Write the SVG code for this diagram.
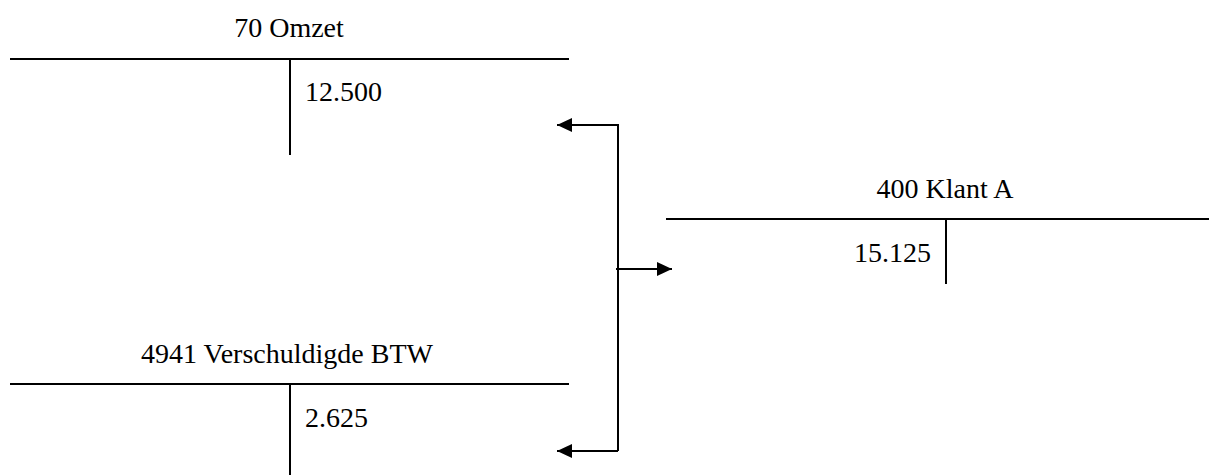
<svg xmlns="http://www.w3.org/2000/svg" width="1216" height="475" viewBox="0 0 1216 475">
<style>
text{font-family:"Liberation Serif","Times New Roman",serif;font-size:28px;fill:#000}
.t{stroke:#000;stroke-width:2;fill:none}
.c{stroke:#000;stroke-width:2;fill:none}
</style>
<defs>
<marker id="ah" viewBox="0 0 15 14" refX="15" refY="7" markerWidth="15" markerHeight="14" markerUnits="userSpaceOnUse" orient="auto">
<path d="M0,0 L15,7 L0,14 Z" fill="#000"/>
</marker>
</defs>
<rect width="1216" height="475" fill="#fff"/>
<g id="omzet">
<text x="289" y="37" text-anchor="middle">70 Omzet</text>
<line class="t" x1="10" y1="59" x2="569" y2="59"/>
<line class="t" x1="290" y1="59" x2="290" y2="155"/>
<text x="305" y="101">12.500</text>
</g>
<g id="klant">
<text x="945" y="198" text-anchor="middle">400 Klant A</text>
<line class="t" x1="666" y1="219" x2="1209" y2="219"/>
<line class="t" x1="946" y1="219" x2="946" y2="284"/>
<text x="931" y="262" text-anchor="end">15.125</text>
</g>
<g id="btw">
<text x="287" y="363" text-anchor="middle">4941 Verschuldigde BTW</text>
<line class="t" x1="10" y1="384" x2="569" y2="384"/>
<line class="t" x1="290" y1="384" x2="290" y2="475"/>
<text x="305" y="427">2.625</text>
</g>
<g id="connectors">
<polyline class="c" points="618,451 618,125 557,125" marker-end="url(#ah)"/>
<line class="c" x1="618" y1="451" x2="557" y2="451" marker-end="url(#ah)"/>
<line class="c" x1="616" y1="269" x2="672" y2="269" marker-end="url(#ah)"/>
</g>
</svg>
